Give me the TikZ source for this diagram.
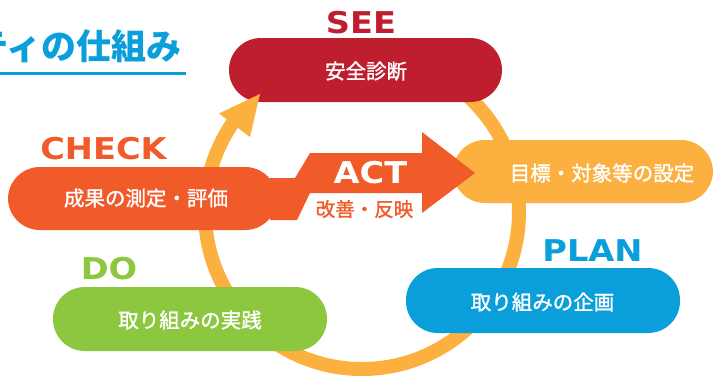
\documentclass[tikz,border=0pt]{standalone}
\usepackage{fontspec}
\newfontfamily\jp{Noto Sans CJK JP}
\newfontfamily\jpm{Noto Sans CJK JP}[FakeBold=1.3]
\newfontfamily\lab{DejaVu Sans}[FakeStretch=1.12]
\definecolor{seered}{HTML}{BE1E2D}
\definecolor{actor}{HTML}{F15A29}
\definecolor{ringy}{HTML}{FBB040}
\definecolor{planb}{HTML}{0A9FDA}
\definecolor{dog}{HTML}{8DC63F}
\tikzset{
  pill/.style={rectangle, rounded corners=31.9pt, minimum height=64pt, inner sep=0pt},
  jptext/.style={font=\jpm\fontsize{20.5}{24}\selectfont, text=white, inner sep=0pt},
  steplabel/.style={font=\lab\bfseries\fontsize{30}{32}\selectfont, inner sep=0pt},
}
\begin{document}
\begin{tikzpicture}[x=1pt,y=-1pt]
\useasboundingbox (0,0) rectangle (717,376);
\clip (0,0) rectangle (717,376);
% title
\node[font=\jp\bfseries\fontsize{35}{40}\selectfont, text=planb, anchor=base east, inner sep=0pt] (title) at (182,59.5) {ティの仕組み};
\coordinate (ul1) at (0,73);
\coordinate (ul2) at (186,73);
\draw[planb, line width=3pt] (ul1) -- (ul2);
% ring
\coordinate (rc) at (362,212);
\draw[ringy, line width=14pt] (rc) ++(-90:157) arc[start angle=-90, end angle=215, radius=157];
% boxes
\node[pill, fill=seered, minimum width=273pt] (see) at (365.5,70) {};
\node[pill, fill=actor, minimum width=269pt, minimum height=63pt] (check) at (142.5,198.5) {};
\node[pill, fill=ringy, minimum width=260pt, minimum height=63pt] (goal) at (583,171.5) {};
\node[pill, fill=planb, minimum width=274pt, minimum height=65pt] (plan) at (543,300.5) {};
\node[pill, fill=dog, minimum width=274pt] (do) at (190,319) {};
% ACT arrow
\fill[actor] (270,178) -- (295,178) -- (310,153) -- (422,153) -- (422,132) -- (475,173) -- (422,213) -- (422,193) -- (310,193) -- (297,220) -- (270,220) -- cycle;
% ring arrowhead
\fill[ringy] (219,113.5) -- (260,94) -- (250,137) -- cycle;
% texts
\node[jptext] (tsee) at (366,71) {安全診断};
\node[jptext] (tcheck) at (146,198) {成果の測定・評価};
\node[jptext] (tgoal) at (602,173) {目標・対象等の設定};
\node[jptext] (tplan) at (542.5,302) {取り組みの企画};
\node[jptext] (tdo) at (190,320) {取り組みの実践};
\node[jptext, text=actor, font=\jpm\fontsize{19.5}{22}\selectfont] (tact) at (364.5,209) {改善・反映};
% step labels
\node[steplabel, text=seered] (lsee) at (361,22.5) {SEE};
\node[steplabel, text=actor] (lcheck) at (103.5,149) {CHECK};
\node[steplabel, text=white] (lact) at (370.5,173) {ACT};
\node[steplabel, text=planb] (lplan) at (592.5,250.5) {PLAN};
\node[steplabel, text=dog] (ldo) at (109,269) {DO};
\end{tikzpicture}
\end{document}
